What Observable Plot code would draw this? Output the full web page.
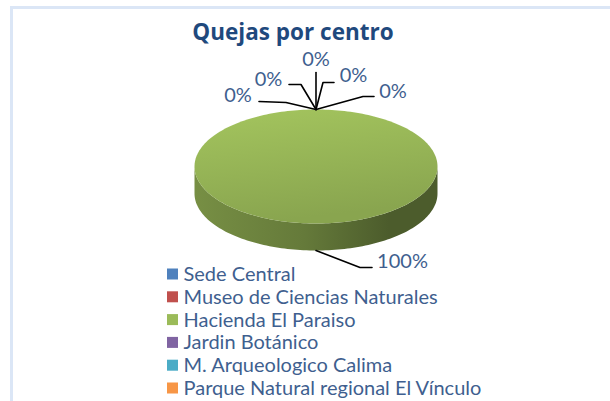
<!DOCTYPE html>
<html><head><meta charset="utf-8">
<script src="https://cdn.jsdelivr.net/npm/d3@7"></script>
<script src="https://cdn.jsdelivr.net/npm/@observablehq/plot@0.6"></script>
<style>
body{margin:0;background:#fff;}
#wrap{position:relative;width:610px;height:401px;overflow:hidden;}
#frame{position:absolute;left:10px;top:6px;width:700px;height:500px;border-left:3px solid #dbe6f6;border-top:3px solid #dbe6f6;pointer-events:none;}
</style></head><body>
<div id="wrap"><div id="chart"></div><div id="frame"></div></div>
<script>
// ---- data ----
const title = "Quejas por centro";
const categories = ["Sede Central", "Museo de Ciencias Naturales", "Hacienda El Paraiso", "Jardin Botánico", "M. Arqueologico Calima", "Parque Natural regional El Vínculo"];
const values = [0, 0, 100, 0, 0, 0];
const colors = ["#4F81BD", "#C0504D", "#9BBB59", "#8064A2", "#4BACC6", "#F79646"];

// ---- layout ----
const W = 610, H = 401;
const P = {cx: 315.5, cy: 166, rx: 121.5, ry: 57, depth: 27};
// leader elbow points and label centre, relative to each slice's anchor
const labelLayout = [
  {pts: [[-30, -7], [-57, -8]], lab: [-78, -14]},
  {pts: [[-15, -25], [-27, -25]], lab: [-47.5, -30]},
  {pts: [[0, -37]], lab: [0, -50]},
  {pts: [[7, -27], [18, -27]], lab: [37.5, -34]},
  {pts: [[47, -13], [58, -13]], lab: [77, -18]}
];
const bigLayout = {pts: [[44, 17], [56, 17]], lab: [86.5, 11]};
const zeroOrder = [0, 1, null, 2, 3, 4];
const legend = {x: 167, y0: 274, step: 22.8, size: 11, gap: 5};
const textColor = "#3F5F8F";

// ---- geometry ----
const total = d3.sum(values);
const arcs = d3.pie().sort(null).value(d => d)(values);
const ept = (t, dy = 0) => ({x: P.cx + P.rx * Math.sin(t), y: P.cy - P.ry * Math.cos(t) + dy});
const N = 240;
function arcPts(a0, a1, dy = 0) {
  const n = Math.max(2, Math.ceil(N * (a1 - a0) / (2 * Math.PI)));
  return d3.range(n + 1).map(k => ept(a0 + (a1 - a0) * k / n, dy));
}

const marks = [];
// sides (front half only)
arcs.forEach((a, i) => {
  if (a.endAngle - a.startAngle <= 0) return;
  const s0 = Math.max(a.startAngle, Math.PI / 2), s1 = Math.min(a.endAngle, 3 * Math.PI / 2);
  if (s1 <= s0) return;
  const pts = arcPts(s0, s1, 0).concat(arcPts(s0, s1, P.depth).reverse());
  marks.push(Plot.line(pts, {x: "x", y: "y", fill: `url(#side${i})`, stroke: "none"}));
});
// tops
arcs.forEach((a, i) => {
  if (a.endAngle - a.startAngle <= 0) return;
  const full = a.endAngle - a.startAngle >= 2 * Math.PI - 1e-9;
  const pts = full ? arcPts(0, 2 * Math.PI) : [{x: P.cx, y: P.cy}, ...arcPts(a.startAngle, a.endAngle)];
  marks.push(Plot.line(pts, {x: "x", y: "y", fill: `url(#top${i})`, stroke: "none"}));
});

// labels
const leaders = [], labels = [];
arcs.forEach((a, i) => {
  const mid = (a.startAngle + a.endAngle) / 2;
  const front = Math.cos(mid) < 0;
  const anc = ept(mid, front ? P.depth : 0);
  const lay = values[i] / total > 0.5 ? bigLayout : labelLayout[zeroOrder[i]];
  leaders.push({cat: i, x: anc.x, y: anc.y});
  lay.pts.forEach(p => leaders.push({cat: i, x: anc.x + p[0], y: anc.y + p[1]}));
  labels.push({x: anc.x + lay.lab[0], y: anc.y + lay.lab[1], text: d3.format(".0%")(values[i] / total)});
});

marks.push(Plot.line(leaders, {x: "x", y: "y", z: "cat", stroke: "#000", strokeWidth: 1.6}));
marks.push(Plot.text(labels, {x: "x", y: "y", text: "text", fill: textColor, fontSize: 20, lineAnchor: "middle"}));

// title
marks.push(Plot.text([title], {x: 292.5, y: 32, text: d => d, fill: "#1F497D", fontSize: 22.5, fontWeight: "bold", fontFamily: "Open Sans", lineAnchor: "middle"}));

// legend
marks.push(Plot.rect(categories, {
  x1: legend.x, x2: legend.x + legend.size,
  y1: (d, i) => legend.y0 + i * legend.step - legend.size / 2,
  y2: (d, i) => legend.y0 + i * legend.step + legend.size / 2,
  fill: (d, i) => colors[i]
}));
marks.push(Plot.text(categories, {
  x: legend.x + legend.size + legend.gap,
  y: (d, i) => legend.y0 + i * legend.step,
  text: d => d, textAnchor: "start", lineAnchor: "middle", fontSize: 20, fill: textColor
}));

const svg = Plot.plot({
  width: W, height: H, margin: 0,
  x: {domain: [0, W], range: [0, W], axis: null},
  y: {domain: [0, H], range: [0, H], axis: null},
  color: {type: "identity"},
  style: {fontFamily: "Lato", background: "#fff"},
  marks
});

const defs = d3.select(svg).insert("defs", ":first-child");
colors.forEach((c, i) => {
  const t = defs.append("linearGradient").attr("id", `top${i}`).attr("x1", 0).attr("y1", 0).attr("x2", 0.25).attr("y2", 1);
  t.append("stop").attr("offset", "0%").attr("stop-color", d3.color(c).brighter(0.15));
  t.append("stop").attr("offset", "100%").attr("stop-color", d3.color(c).darker(0.35));
  const s = defs.append("linearGradient").attr("id", `side${i}`).attr("x1", 0).attr("y1", 0).attr("x2", 1).attr("y2", 0);
  s.append("stop").attr("offset", "0%").attr("stop-color", d3.color(c).darker(0.75));
  s.append("stop").attr("offset", "45%").attr("stop-color", d3.color(c).darker(1.2));
  s.append("stop").attr("offset", "80%").attr("stop-color", d3.color(c).darker(2.0));
  s.append("stop").attr("offset", "100%").attr("stop-color", d3.color(c).darker(2.0));
});

document.getElementById("chart").appendChild(svg);
</script>
</body></html>
